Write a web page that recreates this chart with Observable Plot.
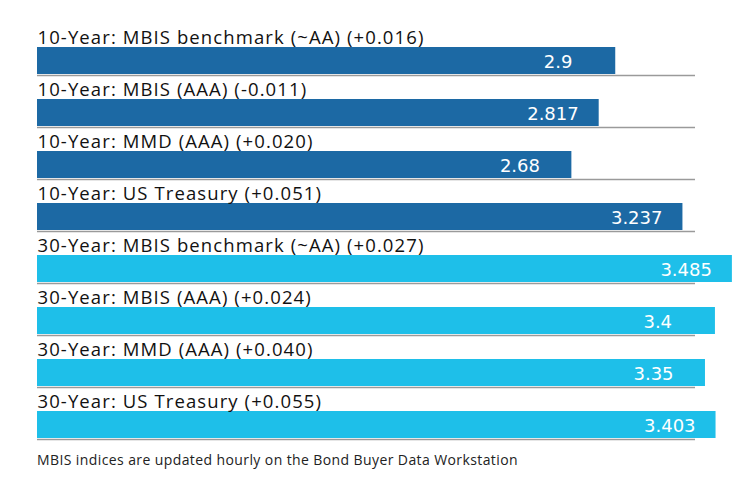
<!DOCTYPE html>
<html>
<head>
<meta charset="utf-8">
<script src="https://cdn.jsdelivr.net/npm/d3@7"></script>
<script src="https://cdn.jsdelivr.net/npm/@observablehq/plot@0.6"></script>
<style>
  html, body { margin: 0; padding: 0; background: #fff; }
  #chart { width: 740px; }
  .note { font-family: "Open Sans", sans-serif; font-size: 14px; letter-spacing: 0.4px; color: #222; margin: 2px 0 0 37px; }
</style>
</head>
<body>
<div id="chart"></div>
<script>
const labels = [
  "10-Year: MBIS benchmark (~AA) (+0.016)",
  "10-Year: MBIS (AAA) (-0.011)",
  "10-Year: MMD (AAA) (+0.020)",
  "10-Year: US Treasury (+0.051)",
  "30-Year: MBIS benchmark (~AA) (+0.027)",
  "30-Year: MBIS (AAA) (+0.024)",
  "30-Year: MMD (AAA) (+0.040)",
  "30-Year: US Treasury (+0.055)"
];
const values = [2.9, 2.817, 2.68, 3.237, 3.485, 3.4, 3.35, 3.403];
const valueText = ["2.9", "2.817", "2.68", "3.237", "3.485", "3.4", "3.35", "3.403"];
const tenor = ["10-Year", "10-Year", "10-Year", "10-Year", "30-Year", "30-Year", "30-Year", "30-Year"];
const note = "MBIS indices are updated hourly on the Bond Buyer Data Workstation";

const data = labels.map((label, i) => ({label, value: values[i], text: valueText[i], tenor: tenor[i]}));

const chart = Plot.plot({
  width: 740,
  height: 448,
  marginTop: 19,
  marginBottom: 6,
  marginLeft: 37,
  marginRight: 45,
  x: {domain: [0, 3.3], axis: null},
  y: {domain: labels, axis: null, padding: 0},
  color: {domain: ["10-Year", "30-Year"], range: ["#1c69a4", "#1ebfe9"]},
  marks: [
    Plot.ruleY(data, {y: "label", dy: 26, stroke: "#9a9a9a", strokeWidth: 1.5}),
    Plot.barX(data, {y: "label", x: "value", fill: "tenor", insetTop: 24, insetBottom: 1}),
    Plot.text(data, {y: "label", x: 0, text: "label", textAnchor: "start", lineAnchor: "bottom", dy: -6,
      fontFamily: "'Open Sans', sans-serif", fontSize: 18.5, fill: "#111"}),
    Plot.text(data, {y: "label", x: "value", text: "text", textAnchor: "start", lineAnchor: "bottom", dx: -72, dy: 18.6,
      fontFamily: "DejaVu Sans, sans-serif", fontSize: 18, fill: "#fff"})
  ]
});
const textGroups = chart.querySelectorAll('g[aria-label="text"]');
if (textGroups.length) textGroups[0].setAttribute("letter-spacing", "1.1");
document.getElementById("chart").appendChild(chart);
const div = document.createElement("div");
div.className = "note";
div.textContent = note;
document.getElementById("chart").appendChild(div);
</script>
</body>
</html>
